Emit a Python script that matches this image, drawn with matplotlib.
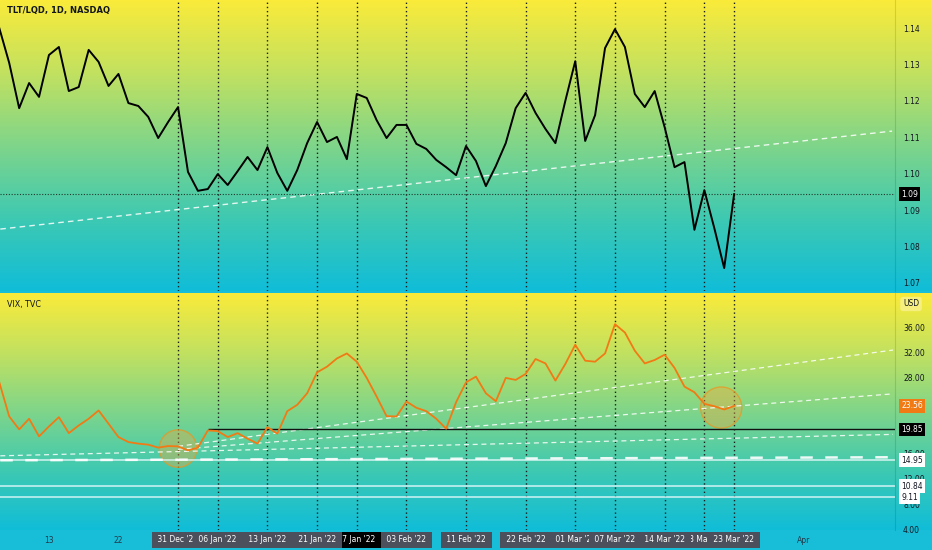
import numpy as np
import matplotlib
matplotlib.use("Agg")
import matplotlib.pyplot as plt
from matplotlib.colors import LinearSegmentedColormap
from matplotlib.transforms import blended_transform_factory

# daily bars, index 0 = 31 Dec 2021 (weekends / holidays skipped)
bar_start = -18

tlt_lqd = [
    1.1400, 1.1304, 1.1180, 1.1249, 1.1211, 1.1326, 1.1348, 1.1227, 1.1238, 1.1340,
    1.1307, 1.1241, 1.1274, 1.1194, 1.1186, 1.1156, 1.1098, 1.1142, 1.1183, 1.1005,
    1.0953, 1.0958, 1.0999, 1.0969, 1.1007, 1.1046, 1.1010, 1.1073, 1.1002, 1.0953,
    1.1010, 1.1084, 1.1142, 1.1087, 1.1101, 1.1040, 1.1219, 1.1208, 1.1147, 1.1098,
    1.1134, 1.1134, 1.1082, 1.1068, 1.1038, 1.1018, 1.0996, 1.1076, 1.1035, 1.0966,
    1.1021, 1.1084, 1.1180, 1.1222, 1.1167, 1.1123, 1.1084, 1.1200, 1.1309, 1.1090,
    1.1161, 1.1345, 1.1397, 1.1348, 1.1219, 1.1183, 1.1227, 1.1128, 1.1018, 1.1032,
    1.0846, 1.0955, 1.0851, 1.0741, 1.0944,
]

vix = [
    27.31, 21.89, 19.84, 21.53, 18.73, 20.31, 21.78, 19.25, 20.47, 21.53,
    22.84, 20.74, 18.62, 17.83, 17.58, 17.42, 16.95, 17.20, 17.15, 16.52,
    16.95, 19.68, 19.57, 18.62, 19.25, 18.37, 17.58, 20.20, 19.16, 22.73,
    23.74, 25.57, 28.89, 29.79, 31.10, 31.89, 30.58, 28.01, 25.05, 21.94,
    21.89, 24.26, 23.27, 22.73, 21.53, 19.95, 24.15, 27.31, 28.21, 25.57,
    24.31, 28.01, 27.69, 28.64, 31.01, 30.31, 27.58, 30.22, 33.27, 30.74,
    30.58, 31.89, 36.54, 35.21, 32.32, 30.31, 30.85, 31.69, 29.59, 26.63,
    25.73, 23.90, 23.52, 23.00, 23.56,
]

# dated vertical markers and their axis labels
marker_bars = [0, 4, 9, 14, 18, 23, 29, 35, 40, 44, 49, 53, 56]
marker_labels = ["31 Dec '21", "06 Jan '22", "13 Jan '22", "21 Jan '22", "27 Jan '22",
                 "03 Feb '22", "11 Feb '22", "22 Feb '22", "01 Mar '22", "07 Mar '22",
                 "14 Mar '22", "18 Mar '22", "23 Mar '22"]
plain_ticks = [-13, -6, 63]
plain_labels = ["13", "22", "Apr"]

tlt_ticks = [1.07, 1.08, 1.09, 1.10, 1.11, 1.12, 1.13, 1.14]
vix_ticks = [4, 8, 12, 16, 28, 32, 36]   # 20 and 24 sit under the price boxes

# drawings
tlt_trend_x = [-17.9, 71.9]
tlt_trend_y = [1.0848, 1.1117]
vix_trends = [([0, 72], [17.15, 32.43]),
              ([0, 72], [16.68, 25.48]),
              ([-17.9, 72], [15.65, 19.05])]
vix_thick_dash = ([-17.9, 72], [14.94, 15.42])
vix_resistance = 19.85
vix_resistance_from = 3
vix_levels = [14.95, 10.84, 9.11]
circle_bars = [0, 54.7]
circle_vals = [16.8, 23.3]

W, H = 932, 550
PLOT_R = 895
ORANGE = "#f27a14"
TXT = "#131722"
fig = plt.figure(figsize=(W / 100, H / 100), dpi=100, facecolor="#18bed7")
grad = LinearSegmentedColormap.from_list(
    "tv", ["#faeb3a", "#c2e160", "#7fd58a", "#3ec9b2", "#10bdd8"])


def rect(top, bottom, right=W):
    return [0, 1 - bottom / H, right / W, (bottom - top) / H]


panes = [(0, 291), (293, 530)]
axes = []
for top, bottom in panes:
    bg = fig.add_axes(rect(top, bottom), zorder=0)
    bg.imshow(np.linspace(0, 1, 256).reshape(-1, 1), cmap=grad, aspect="auto",
              extent=[0, 1, 0, 1], origin="upper")
    bg.axis("off")
    ax = fig.add_axes(rect(top, bottom, PLOT_R), zorder=1)
    ax.patch.set_visible(False)
    for s in ["top", "left", "bottom"]:
        ax.spines[s].set_visible(False)
    ax.spines["right"].set_color((0, 0, 0, 0.12))
    ax.set_xlim(-17.93, 72.2)
    ax.yaxis.tick_right()
    ax.tick_params(axis="y", length=0, pad=5.8, labelsize=5.5, labelcolor=TXT)
    for b in marker_bars:
        ax.axvline(b, color="#1b1f1f", ls=(0, (1, 2)), lw=1.0, zorder=1)
    axes.append(ax)

ax1, ax2 = axes
bars = np.arange(bar_start, bar_start + len(tlt_lqd))

# --- TLT/LQD pane ---
ax1.set_ylim(1.0678, 1.1477)
ax1.set_yticks(tlt_ticks, [f"{t:.2f}" for t in tlt_ticks])
ax1.set_xticks([])
ax1.plot(tlt_trend_x, tlt_trend_y, color="white", lw=1, ls=(0, (4, 3)), alpha=0.85, zorder=2)
ax1.axhline(tlt_lqd[-1], color="#1f3b2c", lw=0.8, ls=(0, (1, 1.5)), zorder=2)
ax1.plot(bars, tlt_lqd, color="black", lw=1.4, zorder=3)
ax1.text(0.008, 1 - 11 / 291, "TLT/LQD, 1D, NASDAQ", transform=ax1.transAxes,
         fontsize=6.0, fontweight="bold", color=TXT, va="center")
tr1 = blended_transform_factory(ax1.transAxes, ax1.transData)
ax1.text(901 / PLOT_R, tlt_lqd[-1], f"{tlt_lqd[-1]:.2f}", transform=tr1, fontsize=5.5,
         color="white", va="center", ha="left", zorder=5,
         bbox=dict(boxstyle="square,pad=0.3", fc="black", ec="none"))

# --- VIX pane ---
ax2.set_ylim(3.88, 41.48)
ax2.set_yticks(vix_ticks, [f"{t:.2f}" for t in vix_ticks])
ax2.set_xticks(plain_ticks, plain_labels)
ax2.tick_params(axis="x", length=0, pad=4.5, labelsize=5.5, labelcolor="#22384a")

for lvl in vix_levels:
    ax2.axhline(lvl, color="#e2f9fb", lw=1.1, alpha=0.9, zorder=2)
ax2.plot(*vix_thick_dash, color="white", lw=1.8, ls=(0, (5, 5)), alpha=0.9, zorder=2)
for tx, ty in vix_trends:
    ax2.plot(tx, ty, color="white", lw=0.9, ls=(0, (4, 3)), alpha=0.85, zorder=2)
ax2.hlines(vix_resistance, vix_resistance_from, 72.2, color="#111", lw=1.0, zorder=2)
ax2.scatter(circle_bars, circle_vals, s=[730, 880], color=(0.97, 0.66, 0.22, 0.38),
            edgecolors=(0.93, 0.58, 0.12, 0.7), linewidths=1.0, zorder=1.5)
ax2.plot(bars, vix, color=ORANGE, lw=1.3, zorder=3)
ax2.text(0.008, 1 - 11 / 237, "VIX, TVC", transform=ax2.transAxes,
         fontsize=5.8, color=TXT, va="center")
ax2.text(903 / PLOT_R, 1 - 11 / 237, "USD", transform=ax2.transAxes, fontsize=5.5,
         color=TXT, va="center", ha="left",
         bbox=dict(boxstyle="round,pad=0.35", fc="#fbf39a", ec="none", alpha=0.7))

tr2 = blended_transform_factory(ax2.transAxes, ax2.transData)
boxes = [(vix[-1], ORANGE, "white"), (vix_resistance, "black", "white")]
boxes += [(lvl, "white", TXT) for lvl in vix_levels]
for val, fc, tc in boxes:
    ax2.text(901 / PLOT_R, val, f"{val:.2f}", transform=tr2, fontsize=5.5, color=tc,
             va="center", ha="left", zorder=5,
             bbox=dict(boxstyle="square,pad=0.3", fc=fc, ec="none"))

# date labels under the dotted markers
trx = blended_transform_factory(ax2.transData, ax2.transAxes)
for k, (b, lab) in enumerate(zip(marker_bars, marker_labels)):
    hidden = lab in ("27 Jan '22", "18 Mar '22")
    ax2.text(b, -10 / 237, f" {lab} ", transform=trx, fontsize=5.5, color="white",
             ha="center", va="center", zorder=2.5 if hidden else 4 + k * 0.01,
             bbox=dict(boxstyle="square,pad=0.45",
                       fc="black" if lab == "27 Jan '22" else "#4b505c", ec="none"))

fig.savefig("out.png", dpi=100, facecolor=fig.get_facecolor())
